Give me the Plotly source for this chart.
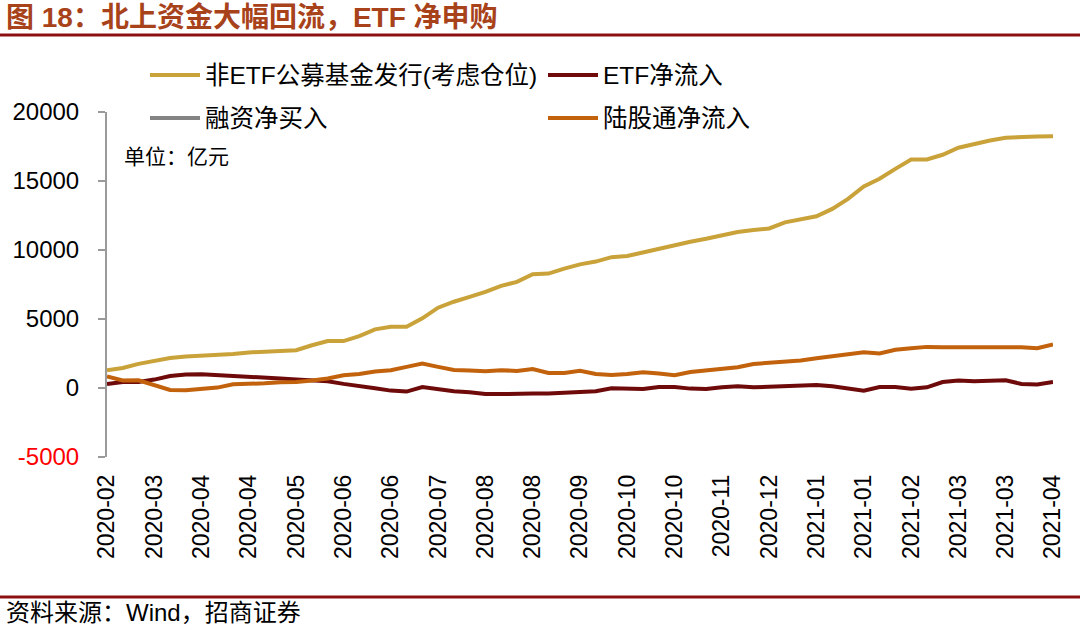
import plotly.graph_objects as go

# ---- data (亿元), weekly points ----
tick_labels = ["2020-02", "2020-03", "2020-04", "2020-04", "2020-05", "2020-06", "2020-06",
               "2020-07", "2020-08", "2020-08", "2020-09", "2020-10", "2020-10", "2020-11",
               "2020-12", "2021-01", "2021-01", "2021-02", "2021-03", "2021-03", "2021-04"]

non_etf_fund = [1290, 1450, 1750, 1990, 2180, 2280, 2330, 2360, 2470, 2580, 2620, 2720, 2740,
                3100, 3400, 3400, 3760, 4250, 4440, 4440, 5050, 5820, 6250, 6600, 6960, 7400,
                7690, 8250, 8290, 8650, 8960, 9160, 9480, 9560, 9820, 10110, 10400, 10600, 10810,
                11050, 11300, 11450, 11560, 12000, 12250, 12440, 12980, 13700, 14600, 15160,
                15880, 16560, 16560, 16900, 17410, 17700, 17940, 18140, 18210, 18230, 18250]

etf_inflow = [290, 440, 440, 610, 870, 975, 995, 945, 850, 800, 730, 685, 610, 580, 490, 300,
              175, -20, -190, -260, 70, -115, -240, -310, -435, -435, -385, -405, -405, -335,
              -260, -240, -20, -45, -75, 75, 75, -45, -75, 50, 125, 50, 100, 100, 145, 220,
              125, 0, -190, 75, 75, -45, 50, 435, 540, 490, 510, 560, 290, 250, 435]

margin_buy = []  # 融资净买入: no visible values in the chart

northbound = [830, 540, 560, 200, -145, -165, -95, 30, 270, 290, 340, 415, 435, 540, 685, 925,
              1020, 1190, 1290, 1530, 1775, 1530, 1310, 1265, 1215, 1290, 1235, 1380, 1090, 1090,
              1250, 1020, 945, 1020, 1140, 1050, 925, 1165, 1265, 1340, 1505, 1745, 1820, 1920,
              1995, 2160, 2305, 2500, 2595, 2500, 2765, 2885, 2980, 2960, 2960, 2960, 2960, 2960,
              2960, 2885, 3155]

names = ["非ETF公募基金发行(考虑仓位)", "ETF净流入", "融资净买入", "陆股通净流入"]
colors = ["#C9A23A", "#6E0A0A", "#848484", "#C2620C"]

x_idx = list(range(len(non_etf_fund)))
tick_pos = list(range(0, len(non_etf_fund), 3))

y_ticks = [-5000, 0, 5000, 10000, 15000, 20000]
y_text = ['<span style="color:#FF0000">-5000</span>', "0", "5000", "10000", "15000", "20000"]

FONT = "Liberation Sans, Arial, Noto Sans CJK SC, sans-serif"
CJK = "Noto Sans CJK SC, sans-serif"

fig = go.Figure()
series = [non_etf_fund, etf_inflow, margin_buy, northbound]
legends = ["legend", "legend", "legend2", "legend2"]
for name, ys, col, lg in zip(names, series, colors, legends):
    fig.add_trace(go.Scatter(
        x=x_idx[:len(ys)] if ys else [None], y=ys if ys else [None],
        mode="lines", name=name, line=dict(color=col, width=4),
        legend=lg, showlegend=True, hoverinfo="skip"))

L, R, T, B = 107, 27, 112, 169
W, H = 1080, 626
pw, ph = W - L - R, H - T - B

def px_x(p):
    return (p - L) / pw

def px_y(p):
    return (H - B - p) / ph

legend_common = dict(orientation="h", xanchor="left", yanchor="middle",
                     entrywidth=333, entrywidthmode="pixels", itemwidth=50,
                     bgcolor="rgba(0,0,0,0)", font=dict(family=FONT, size=24.5, color="#000000"))

fig.update_layout(
    width=W, height=H,
    margin=dict(l=L, r=R, t=T, b=B),
    paper_bgcolor="white", plot_bgcolor="white",
    showlegend=True,
    legend=dict(x=px_x(145), y=px_y(75), **legend_common),
    legend2=dict(x=px_x(145), y=px_y(118), **legend_common),
    xaxis=dict(range=[0, len(x_idx) - 1], tickmode="array", tickvals=tick_pos,
               ticktext=tick_labels, tickangle=-90, showline=False, ticks="",
               showgrid=False, zeroline=False, ticklabelstandoff=12,
               tickfont=dict(family=FONT, size=23, color="#000000")),
    xaxis2=dict(range=[0, len(x_idx) - 1], overlaying="x", anchor="free",
                position=0.2, side="bottom", tickmode="array", tickvals=tick_pos,
                showticklabels=False, showline=True, linecolor="#9A9A9A", linewidth=2,
                ticks="outside", ticklen=6, tickcolor="#9A9A9A", tickwidth=2,
                showgrid=False, zeroline=False),
    yaxis=dict(range=[-5000, 20000], tickmode="array", tickvals=y_ticks, ticktext=y_text,
               showline=True, linecolor="#9A9A9A", linewidth=2, ticks="outside",
               ticklen=7, tickcolor="#9A9A9A", tickwidth=2, showgrid=False,
               zeroline=False, ticklabelstandoff=14,
               tickfont=dict(family=FONT, size=24, color="#000000")),
    shapes=[
        dict(type="line", xref="paper", yref="paper", x0=px_x(0), x1=px_x(W),
             y0=px_y(35), y1=px_y(35), line=dict(color="#8B1010", width=3)),
        dict(type="line", xref="paper", yref="paper", x0=px_x(0), x1=px_x(W),
             y0=px_y(597), y1=px_y(597), line=dict(color="#8B1010", width=3)),
    ],
    annotations=[
        dict(text="<b>图 18：北上资金大幅回流，ETF 净申购</b>", xref="paper", yref="paper",
             x=px_x(4), y=px_y(17), xanchor="left", yanchor="middle", showarrow=False,
             font=dict(family=FONT, size=28, color="#A8421A")),
        dict(text="单位：亿元", xref="paper", yref="paper",
             x=px_x(122), y=px_y(155), xanchor="left", yanchor="middle", showarrow=False,
             font=dict(family=CJK, size=21, color="#000000")),
        dict(text="资料来源：Wind，招商证券", xref="paper", yref="paper",
             x=px_x(4), y=px_y(612), xanchor="left", yanchor="middle", showarrow=False,
             font=dict(family=FONT, size=24, color="#000000")),
    ],
)

fig.write_html("out.html", config={"displayModeBar": False},
               post_script="document.body.style.margin='0';document.body.style.overflow='hidden';")
